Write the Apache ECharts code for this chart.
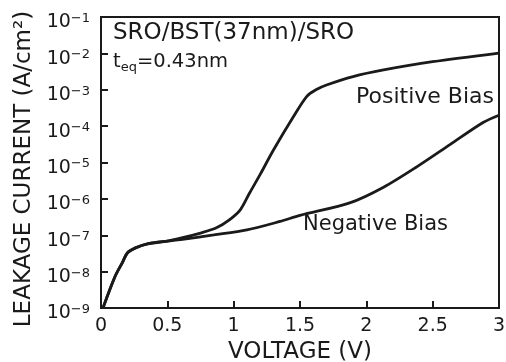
<!DOCTYPE html>
<html>
<head>
<meta charset="utf-8">
<script src="https://cdn.jsdelivr.net/npm/echarts@6/dist/echarts.min.js"></script>
<style>
html,body{margin:0;padding:0;background:#fff;}
#c{width:506px;height:362px;}
</style>
</head>
<body>
<div id="c"></div>
<script>
// Data (voltage in V, leakage current in A/cm^2)
var posV = [0.015, 0.105, 0.16, 0.2, 0.26, 0.35, 0.5, 0.6, 0.75, 0.87, 0.97, 1.05, 1.12, 1.2, 1.3, 1.45, 1.55, 1.62, 1.7, 1.9, 2.13, 2.5, 3.0];
var posJ = [1e-9, 7.2e-9, 1.74e-8, 3.3e-8, 4.5e-8, 5.8e-8, 6.9e-8, 8.3e-8, 1.15e-7, 1.6e-7, 2.7e-7, 5.0e-7, 1.45e-6, 4.7e-6, 2.2e-5, 1.8e-4, 6.5e-4, 1.0e-3, 1.35e-3, 2.3e-3, 3.5e-3, 5.9e-3, 1.02e-2];
var negV = [0.015, 0.105, 0.16, 0.2, 0.26, 0.35, 0.5, 0.6, 0.85, 1.1, 1.35, 1.5, 1.88, 2.13, 2.38, 2.63, 2.88, 3.0];
var negJ = [1e-9, 7.2e-9, 1.74e-8, 3.3e-8, 4.5e-8, 5.8e-8, 6.9e-8, 7.6e-8, 1.02e-7, 1.4e-7, 2.4e-7, 3.5e-7, 7.9e-7, 2.1e-6, 7.6e-6, 3.1e-5, 1.26e-4, 2.0e-4];
var xTicks = [0, 0.5, 1, 1.5, 2, 2.5, 3];
var yExponents = [-9, -8, -7, -6, -5, -4, -3, -2, -1];
var seriesNames = ['Positive Bias', 'Negative Bias'];
var sampleLabel = 'SRO/BST(37nm)/SRO';
var xTitle = 'VOLTAGE (V)';
var yTitle = 'LEAKAGE CURRENT (A/cm\u00B2)';

function pairs(xs, ys){ return xs.map(function(x,i){ return [x, ys[i]]; }); }

var FONT = 'DejaVu Sans';
var INK = '#1a1a1a';

var chart = echarts.init(document.getElementById('c'), null, {renderer:'canvas'});
chart.setOption({
  backgroundColor: '#fff',
  animation: false,
  grid: {left: 101, right: 7, top: 17, bottom: 54, containLabel: false, outerBoundsMode: 'none',
         show: true, borderColor: INK, borderWidth: 2, backgroundColor: 'transparent'},
  xAxis: {
    type: 'value', min: xTicks[0], max: xTicks[xTicks.length-1], interval: 0.5,
    name: xTitle, nameLocation: 'middle', nameGap: 33,
    nameTextStyle: {fontFamily: FONT, fontSize: 23, color: INK},
    axisLine: {lineStyle: {color: INK, width: 2}},
    axisTick: {inside: true, length: 7, lineStyle: {color: INK, width: 2}},
    axisLabel: {fontFamily: FONT, fontSize: 19, color: INK, margin: 9},
    splitLine: {show: false}
  },
  yAxis: {
    type: 'log', logBase: 10, min: Math.pow(10, yExponents[0]), max: Math.pow(10, yExponents[yExponents.length-1]),
    splitNumber: 8,
    name: yTitle, nameLocation: 'middle', nameGap: 59,
    nameTextStyle: {fontFamily: FONT, fontSize: 23, color: INK, padding: [0, 13, 0, 0]},
    axisLine: {lineStyle: {color: INK, width: 2}},
    axisTick: {inside: true, length: 7, lineStyle: {color: INK, width: 2}},
    axisLabel: {
      margin: 11, padding: [10, 0, 0, 0],
      formatter: function(v){
        var e = Math.round(Math.log10(v));
        return '{b|10}{s|\u2212' + Math.abs(e) + '}';
      },
      rich: {
        b: {fontFamily: FONT, fontSize: 19, color: INK, lineHeight: 20, verticalAlign: 'bottom'},
        s: {fontFamily: FONT, fontSize: 13, color: INK, lineHeight: 13, verticalAlign: 'top'}
      }
    },
    splitLine: {show: false}
  },
  series: [
    {name: seriesNames[0], type: 'line', data: pairs(posV, posJ), smooth: 0.3, showSymbol: false, lineStyle: {color: INK, width: 2.8}, z: 3},
    {name: seriesNames[1], type: 'line', data: pairs(negV, negJ), smooth: 0.3, showSymbol: false, lineStyle: {color: INK, width: 2.8}, z: 3}
  ],
  graphic: [
    {type: 'text', left: 113, top: 22, style: {text: sampleLabel, font: '23px "DejaVu Sans"', fill: INK}},
    {type: 'text', left: 113, top: 52, style: {
      text: '{t|t}{sub|eq}{t|=0.43nm}',
      rich: {
        t: {fontFamily: FONT, fontSize: 19.5, fill: INK, lineHeight: 22, verticalAlign: 'top'},
        sub: {fontFamily: FONT, fontSize: 13, fill: INK, lineHeight: 13, verticalAlign: 'bottom'}
      }
    }},
    {type: 'text', left: 356, top: 86, style: {text: seriesNames[0], font: '22px "DejaVu Sans"', fill: INK}},
    {type: 'text', left: 303, top: 214, style: {text: seriesNames[1], font: '21px "DejaVu Sans"', fill: INK}}
  ]
});
</script>
</body>
</html>
